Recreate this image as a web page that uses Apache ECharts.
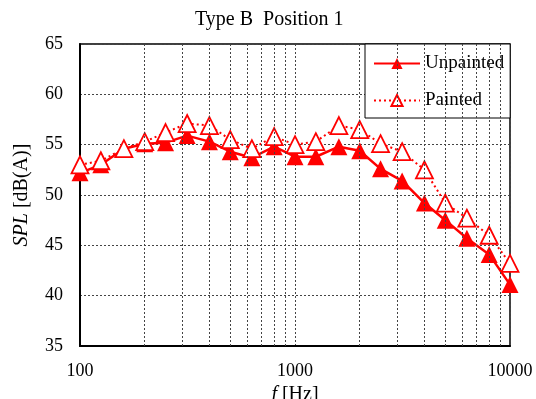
<!DOCTYPE html>
<html>
<head>
<meta charset="utf-8">
<script src="https://cdn.jsdelivr.net/npm/echarts@6/dist/echarts.min.js"></script>
<style>html,body{margin:0;padding:0;background:#fff}#c{width:536px;height:399px}</style>
</head>
<body>
<div id="c"></div>
<script>
const freqs = [100,125,160,200,250,315,400,500,630,800,1000,1250,1600,2000,2500,3150,4000,5000,6300,8000,10000];
const unpainted = [52.2,53.0,54.6,55.1,55.2,55.9,55.3,54.3,53.7,54.8,53.8,53.8,54.8,54.4,52.6,51.4,49.2,47.5,45.7,44.1,41.1];
const painted = [53.0,53.4,54.6,55.3,56.2,57.1,56.9,55.5,54.6,55.8,55.0,55.3,56.9,56.5,55.1,54.3,52.5,49.2,47.7,46.0,43.2];
const minorGridFreqs = [200,300,400,500,600,700,800,900,2000,3000,4000,5000,6000,7000,8000,9000];
const yTicks = [35,40,45,50,55,60,65];
const xTickLabels = ['100','1000','10000'];
const seriesNames = ['Unpainted','Painted'];

const FONT = "'Liberation Serif','Times New Roman',serif";
const RED = '#ff0000';
const chart = echarts.init(document.getElementById('c'), null, {renderer:'canvas'});
chart.setOption({
  animation: false,
  backgroundColor: '#fff',
  title: {
    text: 'Type B  Position 1',
    left: 190, top: 5,
    textStyle: {fontFamily: FONT, fontSize: 20, fontWeight: 'normal', color: '#000'}
  },
  grid: {left: 80, right: 26, top: 44, bottom: 53, containLabel: false, outerBoundsMode: 'none',
    show: true, borderColor: '#000', borderWidth: 1.5, backgroundColor: 'transparent'},
  legend: {
    data: seriesNames,
    orient: 'vertical',
    left: 365, top: 44,
    backgroundColor: '#fff',
    borderColor: '#000', borderWidth: 1,
    padding: [10, 6, 8, 8],
    itemWidth: 46, itemHeight: 14, itemGap: 18,
    textStyle: {fontFamily: FONT, fontSize: 19, color: '#000'}
  },
  xAxis: {
    type: 'log', logBase: 10, min: 100, max: 10000,
    name: '{i|f} [Hz]', nameLocation: 'middle', nameGap: 36,
    nameTextStyle: {fontFamily: FONT, fontSize: 20, color: '#000', rich: {i: {fontFamily: FONT, fontSize: 20, fontStyle: 'italic', color: '#000'}}},
    axisLine: {lineStyle: {color: '#000', width: 2}},
    axisTick: {show: false},
    axisLabel: {fontFamily: FONT, fontSize: 18, color: '#000', margin: 16,
      formatter: v => { const s = String(Math.round(v)); return xTickLabels.indexOf(s) >= 0 ? s : ''; }},
    splitLine: {show: true, lineStyle: {color: '#444', width: 1, type: [2, 2]}}
  },
  yAxis: {
    type: 'value', min: 35, max: 65, interval: 5,
    name: '{i|SPL} [dB(A)]', nameLocation: 'middle', nameGap: 48,
    nameTextStyle: {fontFamily: FONT, fontSize: 20, color: '#000', rich: {i: {fontFamily: FONT, fontSize: 20, fontStyle: 'italic', color: '#000'}}},
    axisLine: {show: true, lineStyle: {color: '#000', width: 2}},
    axisTick: {show: false},
    axisLabel: {fontFamily: FONT, fontSize: 18, color: '#000', margin: 17,
      formatter: v => yTicks.indexOf(v) >= 0 ? String(v) : ''},
    splitLine: {show: true, lineStyle: {color: '#444', width: 1, type: [2, 2]}}
  },
  series: [
    {
      name: seriesNames[0], type: 'line', z: 3,
      data: freqs.map((f, i) => [f, unpainted[i]]),
      symbol: 'triangle', symbolSize: 17,
      lineStyle: {color: RED, width: 2.5, type: 'solid'},
      itemStyle: {color: RED, borderColor: RED, borderWidth: 0},
      markLine: {
        silent: true, symbol: ['none', 'none'], label: {show: false}, animation: false,
        lineStyle: {color: '#444', width: 1, type: [2, 2]},
        emphasis: {disabled: true},
        data: minorGridFreqs.map(f => ({xAxis: f}))
      }
    },
    {
      name: seriesNames[1], type: 'line', z: 4,
      data: freqs.map((f, i) => [f, painted[i]]),
      symbol: 'triangle', symbolSize: 17,
      lineStyle: {color: RED, width: 2, type: [2, 3]},
      itemStyle: {color: '#fff', borderColor: RED, borderWidth: 1.8}
    }
  ]
});
</script>
</body>
</html>
